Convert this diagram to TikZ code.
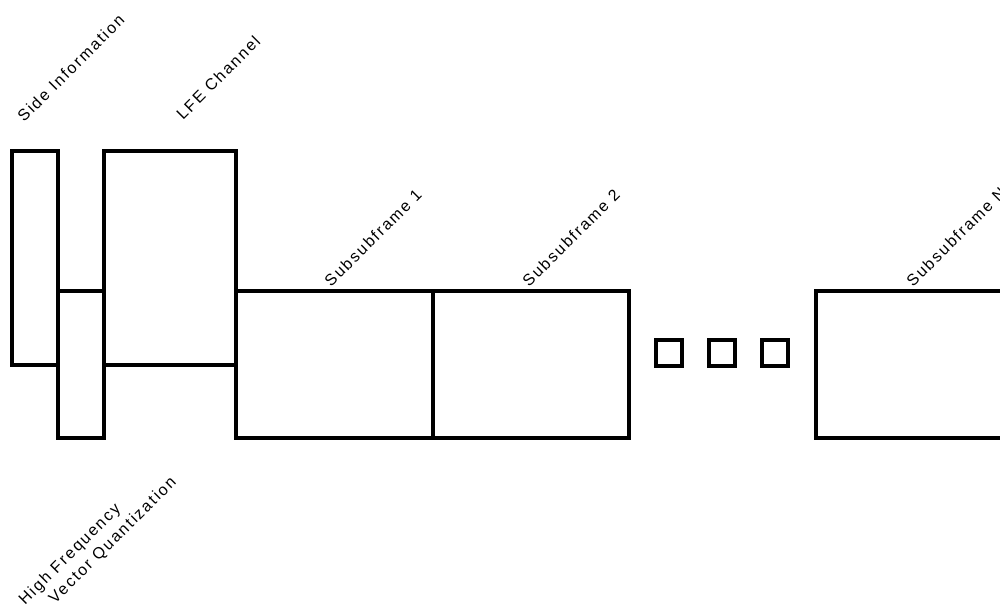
\documentclass[tikz,border=0pt]{standalone}
\usepackage{fontspec}
\newfontfamily\lblfont[LetterSpace=12]{Liberation Sans}
\usetikzlibrary{positioning}
\tikzset{
  blk/.style={draw=black, line width=3.2pt, rectangle, inner sep=0pt, outer sep=0pt},
  dotbox/.style={draw=black, line width=3.2pt, rectangle, inner sep=0pt, outer sep=0pt, minimum size=26pt},
  lbl/.style={font=\lblfont\fontsize{16}{17}\selectfont, rotate=45, anchor=base west, inner sep=0pt}
}

\begin{document}
\begin{tikzpicture}[x=1pt, y=-1pt]
\useasboundingbox (0,0) rectangle (1000,607);
\clip (0,0) rectangle (1000,607);
% frame blocks
\node[blk, minimum width=46pt, minimum height=214pt, anchor=north west] (side) at (12,151) {};
\node[blk, minimum width=46pt, minimum height=147pt, anchor=north west] (hfvq) at (58,291) {};
\node[blk, minimum width=132pt, minimum height=214pt, anchor=north west] (lfe) at (104,151) {};
\node[blk, minimum width=197pt, minimum height=147pt, anchor=north west] (sub1) at (lfe.east |- hfvq.north) {};
\node[blk, minimum width=196pt, minimum height=147pt, right=0pt of sub1] (sub2) {};
\node[blk, minimum width=197pt, minimum height=147pt, anchor=north west] (subN) at (816,291) {};
% dots between the subsubframes
\node[dotbox] (dotA) at (669,353) {};
\node[dotbox, right=27pt of dotA] (dotB) {};
\node[dotbox, right=27pt of dotB] (dotC) {};
% labels
\node[lbl] (sideLbl) at ([shift={(12,-28)}]side.north west) {Side Information};
\node[lbl] (lfeLbl) at ([shift={(79,-30)}]lfe.north west) {LFE Channel};
\node[lbl] (sub1Lbl) at ([shift={(95,-3)}]sub1.north west) {Subsubframe 1};
\node[lbl] (sub2Lbl) at ([shift={(96,-3)}]sub2.north west) {Subsubframe 2};
\node[lbl] (subNLbl) at ([shift={(97,-3)}]subN.north west) {Subsubframe N};
\node[lbl] (hfLbl) at ([shift={(-33,168)}]hfvq.south west) {High Frequency};
\node[lbl] (vqLbl) at ([shift={(-3,167)}]hfvq.south west) {Vector Quantization};
\end{tikzpicture}
\end{document}
